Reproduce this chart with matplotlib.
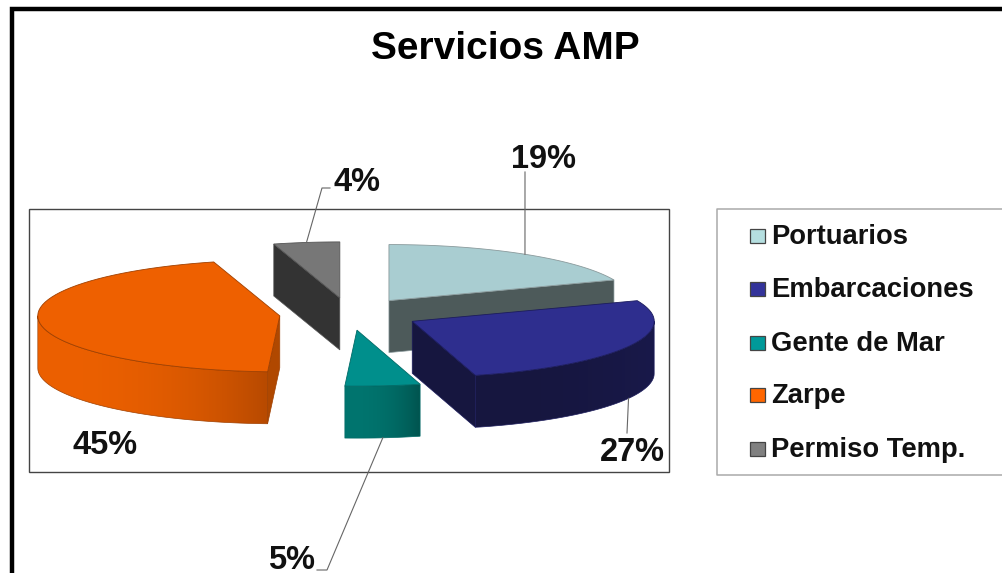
# coding=utf-8
import numpy as np
import matplotlib
matplotlib.use('Agg')
import matplotlib.pyplot as plt
from matplotlib.patches import Polygon, Rectangle

categories = ['Portuarios', 'Embarcaciones', 'Gente de Mar', 'Zarpe', 'Permiso Temp.']
# the labels are rounded, the slices show a bit more
percent_values = [19.0, 26.8, 5.0, 44.8, 4.4]
percent_labels = ['19%', '27%', '5%', '45%', '4%']

plt.rcParams['font.family'] = ['Liberation Sans', 'DejaVu Sans']

# styles, same order as the categories
top_colors = ['#a9cdd1', '#2e2e8e', '#008f8c', '#ee6000', '#777777']
cut_colors = ['#4d5a5a', '#16163f', '#005a56', '#b04800', '#333333']
wall_left = ['#4d5a5a', '#16163f', '#00756f', '#ec6000', '#333333']
wall_right = ['#4d5a5a', '#19194a', '#00544f', '#b84a00', '#333333']
edge_colors = ['#8a9a9c', '#1c1c5c', '#006a66', '#a04000', '#555555']
legend_colors = ['#b5dfe0', '#33339a', '#009999', '#ff6600', '#808080']

# pie geometry in pixels of the figure
center_x, center_y = 349.5, 314
rx, ry = 242, 56
depth = 52
explode = 0.29
# draw back to front
draw_order = [0, 4, 3, 1, 2]

# label baselines and the elbow of the leader line (None = no leader)
label_pos = [(544, 168), (632, 461), (292, 569), (105, 454), (357, 191)]
leader_pts = [[(525, 172)], [(627, 433)], [(327, 570), (317, 570)], None,
              [(322, 188), (330, 188)]]


def ellipse_pts(cx, cy, a0, a1, n=60):
    # angles in degrees, clockwise from 12 o'clock
    ang = np.radians(np.linspace(a0, a1, n))
    return np.column_stack([cx + rx * np.sin(ang), cy - ry * np.cos(ang)])


def blend(c1, c2, t):
    return (1 - t) * np.array(matplotlib.colors.to_rgb(c1)) + t * np.array(matplotlib.colors.to_rgb(c2))


fig = plt.figure(figsize=(10.02, 5.73), dpi=100)
ax = fig.add_axes([0, 0, 1, 1])
ax.set_xlim(0, 1002)
ax.set_ylim(573, 0)
ax.axis('off')

# outer black frame, runs off the picture on the right and bottom
ax.plot([12, 12, 1002], [573, 9, 9], color='black', lw=3.2, solid_joinstyle='miter', zorder=1)
# plot area and legend boxes
ax.add_patch(Rectangle((29.5, 209), 639.5, 263, fill=False, ec='#444444', lw=1.0, zorder=1))
ax.plot([1002, 717, 717, 1002], [209, 209, 475, 475], color='#aaaaaa', lw=1.1, zorder=1)

ends = np.cumsum(percent_values) * 360.0 / np.sum(percent_values)
starts = np.concatenate([[0], ends[:-1]])
mids = (starts + ends) / 2
centers = [(center_x + explode * rx * np.sin(np.radians(m)),
            center_y - explode * ry * np.cos(np.radians(m))) for m in mids]

z = 3
for i in draw_order:
    a0, a1 = starts[i], ends[i]
    cx, cy = centers[i]
    # radial cut faces that look at the viewer
    cuts = []
    if np.sin(np.radians(a0)) < -1e-9:
        cuts.append(a0)
    if np.sin(np.radians(a1)) > 1e-9:
        cuts.append(a1)
    for a in cuts:
        p = ellipse_pts(cx, cy, a, a, 1)[0]
        ax.add_patch(Polygon([(cx, cy), p, (p[0], p[1] + depth), (cx, cy + depth)],
                             fc=cut_colors[i], ec=edge_colors[i], lw=0.5, zorder=z))
        z += 1
    # front arc wall, a horizontal gradient clipped to the wall shape
    lo, hi = max(a0, 90), min(a1, 270)
    if hi > lo:
        arc = ellipse_pts(cx, cy, lo, hi, 80)
        wall = np.vstack([arc, (arc + [0, depth])[::-1]])
        xmin, xmax = arc[:, 0].min(), arc[:, 0].max()
        grad = np.array([blend(wall_left[i], wall_right[i], t ** 2.4) for t in np.linspace(0, 1, 64)])
        outline = Polygon(wall, fc='none', ec=edge_colors[i], lw=0.5, zorder=z + 1)
        ax.add_patch(outline)
        img = ax.imshow(grad[None, :, :], extent=(xmin, xmax, wall[:, 1].max(), wall[:, 1].min()),
                        aspect='auto', interpolation='bilinear', zorder=z)
        img.set_clip_path(outline)
        ax.set_xlim(0, 1002)
        ax.set_ylim(573, 0)
        z += 2
    # top face
    top = np.vstack([[(cx, cy)], ellipse_pts(cx, cy, a0, a1)])
    ax.add_patch(Polygon(top, fc=top_colors[i], ec=edge_colors[i], lw=0.6, zorder=z))
    z += 1

# leader lines start on the slice rim at the middle angle
for i, pts in enumerate(leader_pts):
    if pts is None:
        continue
    cx, cy = centers[i]
    s = ellipse_pts(cx, cy, mids[i], mids[i], 1)[0]
    if 90 < mids[i] < 270:
        s = (s[0], s[1] + depth)
    xs = [s[0]] + [q[0] for q in pts]
    ys = [s[1]] + [q[1] for q in pts]
    ax.plot(xs, ys, color='#666666', lw=0.8, zorder=z)

for lab, (x, y) in zip(percent_labels, label_pos):
    ax.text(x, y, lab, fontsize=23.5, fontweight='bold', color='#111111',
            ha='center', va='baseline', zorder=z + 1)

ax.text(505, 59, 'Servicios AMP', fontsize=28, fontweight='bold', color='black',
        ha='center', va='baseline', zorder=z + 1)

legend_y = [236, 289, 343, 395, 449]
for name, col, y in zip(categories, legend_colors, legend_y):
    ax.add_patch(Rectangle((750, y - 7), 15, 14, fc=col, ec='#444444', lw=0.9, zorder=z))
    ax.text(771, y + 8, name, fontsize=19.7, fontweight='bold', color='#111111',
            ha='left', va='baseline', zorder=z + 1)

fig.savefig('out.png', dpi=100)
